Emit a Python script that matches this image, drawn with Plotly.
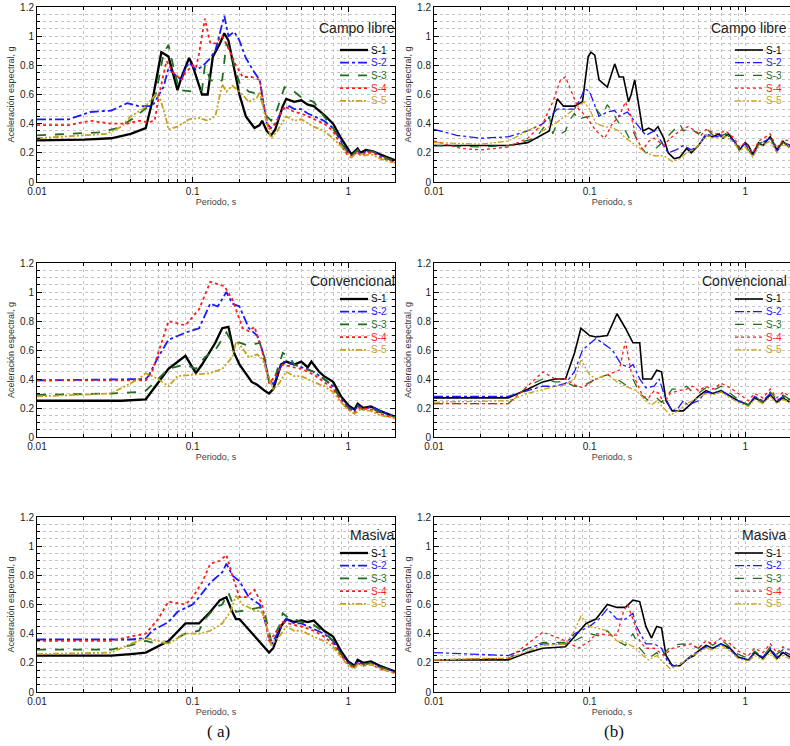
import math
import plotly.graph_objects as go

# ---------------- data (period T in s, spectral acceleration Sa in g) ----------------
SERIES = ["S-1", "S-2", "S-3", "S-4", "S-5"]
COLORS = ["#000000", "#1a1aff", "#1f6e1f", "#ff1a1a", "#c9a21a"]
DASHES = ["solid", "dashdot", "dash", "dot", "6px,2px,2px,2px,2px,2px"]
PANEL_TITLES = ["Campo libre", "Campo libre", "Convencional", "Convencional", "Masiva", "Masiva"]
COLUMN_LABELS = ["( a)", "(b)"]
X_TICKS = [0.01, 0.1, 1]
X_TICK_TEXT = ["0.01", "0.1", "1"]
X_MINOR = [0.02, 0.03, 0.04, 0.05, 0.06, 0.07, 0.08, 0.09, 0.2, 0.3, 0.4, 0.5, 0.6, 0.7, 0.8, 0.9, 2]

# Campo libre (a)
cla_s1_T = [0.01, 0.02, 0.03, 0.04, 0.05, 0.055, 0.063, 0.07, 0.08, 0.085, 0.095, 0.1, 0.115, 0.125, 0.135, 0.15, 0.16, 0.17, 0.2, 0.22, 0.25, 0.27, 0.28, 0.3, 0.32, 0.34, 0.38, 0.4, 0.45, 0.5, 0.55, 0.6, 0.7, 0.8, 0.9, 1.0, 1.05, 1.15, 1.2, 1.3, 1.45, 1.6, 2.0]
cla_s1_Sa = [0.285, 0.29, 0.3, 0.33, 0.37, 0.55, 0.89, 0.86, 0.63, 0.72, 0.85, 0.8, 0.6, 0.6, 0.86, 0.95, 1.02, 0.97, 0.6, 0.45, 0.37, 0.39, 0.42, 0.35, 0.32, 0.36, 0.52, 0.57, 0.55, 0.56, 0.53, 0.52, 0.46, 0.4, 0.3, 0.22, 0.19, 0.23, 0.2, 0.22, 0.21, 0.19, 0.15]
cla_s2_T = [0.01, 0.016, 0.022, 0.03, 0.038, 0.045, 0.055, 0.065, 0.07, 0.08, 0.085, 0.09, 0.095, 0.105, 0.115, 0.13, 0.14, 0.16, 0.17, 0.185, 0.2, 0.22, 0.25, 0.27, 0.28, 0.3, 0.32, 0.34, 0.38, 0.42, 0.45, 0.5, 0.55, 0.6, 0.7, 0.8, 0.9, 1.0, 1.05, 1.15, 1.2, 1.3, 1.45, 1.6, 2.0]
cla_s2_Sa = [0.43, 0.43, 0.48, 0.49, 0.54, 0.52, 0.52, 0.65, 0.78, 0.72, 0.7, 0.78, 0.82, 0.77, 0.79, 0.85, 0.9, 1.14, 1.0, 1.03, 0.97, 0.85, 0.75, 0.7, 0.6, 0.4, 0.37, 0.4, 0.5, 0.52, 0.5, 0.5, 0.47, 0.45, 0.42, 0.37, 0.28, 0.2, 0.18, 0.22, 0.19, 0.21, 0.21, 0.18, 0.14]
cla_s3_T = [0.01, 0.025, 0.033, 0.042, 0.052, 0.058, 0.065, 0.07, 0.075, 0.082, 0.1, 0.115, 0.12, 0.13, 0.145, 0.155, 0.165, 0.18, 0.2, 0.23, 0.27, 0.3, 0.32, 0.35, 0.39, 0.45, 0.5, 0.6, 0.7, 0.8, 0.9, 1.0, 1.05, 1.15, 1.2, 1.3, 1.45, 1.6, 2.0]
cla_s3_Sa = [0.32, 0.34, 0.37, 0.44, 0.52, 0.6, 0.88, 0.94, 0.8, 0.63, 0.62, 0.63, 0.8, 0.7, 0.68, 0.7, 0.95, 0.85, 0.68, 0.62, 0.6, 0.45, 0.42, 0.5, 0.65, 0.62, 0.58, 0.55, 0.45, 0.37, 0.27, 0.2, 0.18, 0.22, 0.2, 0.21, 0.21, 0.18, 0.14]
cla_s4_T = [0.01, 0.016, 0.022, 0.03, 0.038, 0.045, 0.052, 0.057, 0.061, 0.068, 0.075, 0.085, 0.09, 0.1, 0.105, 0.11, 0.12, 0.13, 0.14, 0.155, 0.17, 0.19, 0.21, 0.24, 0.27, 0.29, 0.31, 0.34, 0.39, 0.45, 0.5, 0.6, 0.7, 0.8, 0.9, 1.0, 1.05, 1.15, 1.2, 1.3, 1.45, 1.6, 2.0]
cla_s4_Sa = [0.39, 0.39, 0.42, 0.4, 0.4, 0.42, 0.41, 0.42, 0.6, 0.83, 0.75, 0.7, 0.75, 0.8, 0.78, 0.88, 1.12, 0.95, 0.95, 1.0, 0.92, 0.8, 0.72, 0.72, 0.7, 0.5, 0.36, 0.4, 0.52, 0.48, 0.47, 0.43, 0.4, 0.35, 0.25, 0.18, 0.17, 0.21, 0.18, 0.2, 0.2, 0.17, 0.13]
cla_s5_T = [0.01, 0.02, 0.028, 0.035, 0.04, 0.048, 0.058, 0.062, 0.067, 0.07, 0.08, 0.095, 0.11, 0.125, 0.14, 0.155, 0.165, 0.18, 0.2, 0.23, 0.26, 0.27, 0.3, 0.32, 0.35, 0.4, 0.45, 0.5, 0.6, 0.7, 0.8, 0.95, 1.05, 1.15, 1.25, 1.4, 1.6, 2.0]
cla_s5_Sa = [0.3, 0.32, 0.33, 0.38, 0.45, 0.5, 0.6, 0.57, 0.45, 0.36, 0.38, 0.43, 0.44, 0.42, 0.45, 0.67, 0.62, 0.66, 0.62, 0.55, 0.58, 0.62, 0.4, 0.3, 0.35, 0.45, 0.42, 0.43, 0.38, 0.35, 0.3, 0.22, 0.17, 0.2, 0.18, 0.19, 0.16, 0.13]

# Campo libre (b)
clb_s1_T = [0.01, 0.03, 0.04, 0.045, 0.055, 0.062, 0.068, 0.08, 0.09, 0.098, 0.102, 0.108, 0.115, 0.13, 0.145, 0.155, 0.165, 0.178, 0.185, 0.195, 0.205, 0.22, 0.24, 0.26, 0.275, 0.3, 0.32, 0.35, 0.38, 0.42, 0.45, 0.5, 0.56, 0.62, 0.68, 0.72, 0.78, 0.85, 0.92, 1.0, 1.05, 1.12, 1.22, 1.3, 1.45, 1.6, 1.75, 1.9, 2.0]
clb_s1_Sa = [0.25, 0.25, 0.27, 0.3, 0.35, 0.57, 0.52, 0.52, 0.55, 0.86, 0.89, 0.87, 0.7, 0.65, 0.81, 0.72, 0.72, 0.55, 0.6, 0.7, 0.55, 0.35, 0.37, 0.35, 0.38, 0.3, 0.2, 0.16, 0.17, 0.23, 0.2, 0.25, 0.32, 0.31, 0.33, 0.3, 0.33, 0.28, 0.22, 0.27, 0.25, 0.19, 0.27, 0.25, 0.31, 0.22, 0.28, 0.24, 0.26]
clb_s2_T = [0.01, 0.014, 0.02, 0.03, 0.04, 0.05, 0.056, 0.062, 0.08, 0.088, 0.093, 0.1, 0.105, 0.115, 0.13, 0.145, 0.155, 0.175, 0.2, 0.23, 0.26, 0.28, 0.32, 0.36, 0.4, 0.45, 0.5, 0.56, 0.65, 0.75, 0.85, 0.92, 1.0, 1.12, 1.22, 1.45, 1.6, 1.75, 2.0]
clb_s2_Sa = [0.36, 0.32, 0.3, 0.31, 0.35, 0.4, 0.45, 0.5, 0.5, 0.58, 0.64, 0.62, 0.56, 0.45, 0.48, 0.49, 0.45, 0.48, 0.4, 0.32, 0.35, 0.3, 0.2, 0.22, 0.25, 0.22, 0.25, 0.33, 0.31, 0.33, 0.28, 0.23, 0.26, 0.18, 0.26, 0.3, 0.21, 0.27, 0.25]
clb_s3_T = [0.01, 0.02, 0.03, 0.045, 0.053, 0.055, 0.058, 0.06, 0.065, 0.07, 0.075, 0.08, 0.085, 0.09, 0.1, 0.11, 0.12, 0.13, 0.14, 0.155, 0.17, 0.18, 0.19, 0.21, 0.23, 0.26, 0.28, 0.31, 0.34, 0.36, 0.38, 0.4, 0.44, 0.5, 0.56, 0.65, 0.75, 0.85, 0.92, 1.0, 1.12, 1.22, 1.45, 1.6, 1.75, 2.0]
clb_s3_Sa = [0.25, 0.24, 0.25, 0.3, 0.4, 0.45, 0.33, 0.37, 0.33, 0.35, 0.43, 0.47, 0.42, 0.44, 0.45, 0.5, 0.45, 0.53, 0.48, 0.4, 0.35, 0.3, 0.35, 0.25, 0.2, 0.22, 0.25, 0.3, 0.35, 0.38, 0.4, 0.35, 0.37, 0.33, 0.37, 0.3, 0.33, 0.28, 0.22, 0.25, 0.18, 0.26, 0.3, 0.22, 0.27, 0.25]
clb_s4_T = [0.01, 0.015, 0.02, 0.03, 0.04, 0.05, 0.058, 0.065, 0.07, 0.078, 0.085, 0.095, 0.11, 0.125, 0.14, 0.155, 0.17, 0.185, 0.2, 0.22, 0.24, 0.26, 0.3, 0.33, 0.38, 0.43, 0.48, 0.52, 0.56, 0.65, 0.75, 0.85, 0.92, 1.0, 1.12, 1.22, 1.45, 1.6, 1.75, 2.0]
clb_s4_Sa = [0.28, 0.23, 0.22, 0.24, 0.3, 0.4, 0.55, 0.7, 0.72, 0.6, 0.5, 0.45, 0.35, 0.3, 0.4, 0.45, 0.55, 0.45, 0.3, 0.22, 0.28, 0.3, 0.25, 0.3, 0.35, 0.38, 0.35, 0.32, 0.36, 0.33, 0.35, 0.3, 0.24, 0.27, 0.2, 0.28, 0.33, 0.23, 0.29, 0.28]
clb_s5_T = [0.01, 0.02, 0.03, 0.04, 0.045, 0.05, 0.055, 0.06, 0.075, 0.085, 0.092, 0.1, 0.11, 0.125, 0.14, 0.155, 0.17, 0.2, 0.23, 0.26, 0.3, 0.34, 0.38, 0.42, 0.46, 0.5, 0.56, 0.65, 0.75, 0.85, 0.92, 1.0, 1.12, 1.22, 1.45, 1.6, 1.75, 2.0]
clb_s5_Sa = [0.27, 0.26, 0.28, 0.35, 0.38, 0.35, 0.38, 0.4, 0.48, 0.52, 0.55, 0.5, 0.4, 0.38, 0.37, 0.35, 0.3, 0.25, 0.2, 0.18, 0.18, 0.14, 0.16, 0.2, 0.22, 0.25, 0.32, 0.3, 0.31, 0.27, 0.21, 0.24, 0.17, 0.24, 0.28, 0.2, 0.26, 0.23]

# Convencional (a)
cva_s1_T = [0.01, 0.035, 0.05, 0.07, 0.09, 0.105, 0.115, 0.14, 0.155, 0.17, 0.185, 0.2, 0.24, 0.26, 0.29, 0.31, 0.33, 0.37, 0.4, 0.45, 0.5, 0.55, 0.58, 0.65, 0.7, 0.8, 0.9, 1.0, 1.1, 1.15, 1.25, 1.4, 1.6, 2.0]
cva_s1_Sa = [0.25, 0.25, 0.26, 0.47, 0.56, 0.44, 0.5, 0.65, 0.75, 0.76, 0.58, 0.5, 0.38, 0.36, 0.32, 0.3, 0.33, 0.5, 0.52, 0.5, 0.52, 0.48, 0.52, 0.45, 0.42, 0.38, 0.28, 0.22, 0.19, 0.23, 0.2, 0.21, 0.18, 0.14]
cva_s2_T = [0.01, 0.05, 0.052, 0.06, 0.07, 0.09, 0.11, 0.13, 0.145, 0.165, 0.18, 0.2, 0.23, 0.26, 0.28, 0.31, 0.33, 0.38, 0.45, 0.5, 0.6, 0.7, 0.8, 0.9, 1.0, 1.1, 1.15, 1.25, 1.4, 1.6, 2.0]
cva_s2_Sa = [0.39, 0.4, 0.42, 0.55, 0.67, 0.72, 0.75, 0.92, 0.9, 1.0, 0.92, 0.9, 0.75, 0.7, 0.6, 0.4, 0.36, 0.52, 0.5, 0.48, 0.45, 0.4, 0.35, 0.26, 0.21, 0.18, 0.22, 0.19, 0.21, 0.18, 0.14]
cva_s3_T = [0.01, 0.03, 0.045, 0.05, 0.06, 0.07, 0.09, 0.105, 0.12, 0.14, 0.165, 0.18, 0.2, 0.23, 0.27, 0.29, 0.31, 0.34, 0.38, 0.42, 0.45, 0.5, 0.6, 0.7, 0.8, 0.9, 1.0, 1.1, 1.15, 1.25, 1.4, 1.6, 2.0]
cva_s3_Sa = [0.29, 0.3, 0.31, 0.32, 0.4, 0.47, 0.5, 0.47, 0.55, 0.6, 0.72, 0.65, 0.65, 0.63, 0.65, 0.55, 0.38, 0.42, 0.58, 0.55, 0.5, 0.48, 0.45, 0.4, 0.35, 0.26, 0.2, 0.17, 0.21, 0.19, 0.2, 0.17, 0.14]
cva_s4_T = [0.01, 0.05, 0.055, 0.063, 0.07, 0.09, 0.11, 0.13, 0.16, 0.18, 0.21, 0.23, 0.25, 0.28, 0.31, 0.34, 0.38, 0.45, 0.5, 0.6, 0.7, 0.8, 0.9, 1.0, 1.1, 1.2, 1.4, 1.6, 2.0]
cva_s4_Sa = [0.39, 0.39, 0.45, 0.65, 0.8, 0.77, 0.88, 1.07, 1.04, 0.95, 0.75, 0.73, 0.76, 0.6, 0.37, 0.42, 0.5, 0.48, 0.47, 0.43, 0.38, 0.33, 0.25, 0.19, 0.17, 0.2, 0.19, 0.16, 0.13]
cva_s5_T = [0.01, 0.02, 0.03, 0.045, 0.05, 0.06, 0.07, 0.08, 0.1, 0.13, 0.155, 0.18, 0.19, 0.2, 0.23, 0.26, 0.28, 0.31, 0.33, 0.36, 0.4, 0.45, 0.5, 0.6, 0.7, 0.8, 0.9, 1.0, 1.1, 1.2, 1.4, 1.6, 2.0]
cva_s5_Sa = [0.28, 0.29, 0.3, 0.4, 0.44, 0.4, 0.35, 0.42, 0.43, 0.44, 0.47, 0.55, 0.65, 0.64, 0.55, 0.57, 0.54, 0.4, 0.33, 0.37, 0.45, 0.42, 0.42, 0.38, 0.35, 0.31, 0.24, 0.19, 0.16, 0.19, 0.18, 0.15, 0.13]

# Convencional (b)
cvb_s1_T = [0.01, 0.03, 0.04, 0.05, 0.06, 0.07, 0.08, 0.088, 0.1, 0.11, 0.13, 0.15, 0.17, 0.19, 0.21, 0.22, 0.25, 0.27, 0.29, 0.31, 0.34, 0.4, 0.45, 0.5, 0.56, 0.62, 0.7, 0.8, 0.9, 1.05, 1.15, 1.3, 1.45, 1.6, 1.75, 2.0]
cvb_s1_Sa = [0.27, 0.27, 0.33, 0.38, 0.4, 0.4, 0.58, 0.75, 0.7, 0.69, 0.7, 0.85, 0.75, 0.65, 0.65, 0.4, 0.4, 0.46, 0.45, 0.25, 0.18, 0.18, 0.23, 0.28, 0.32, 0.3, 0.32, 0.28, 0.25, 0.22, 0.27, 0.24, 0.29, 0.24, 0.27, 0.23]
cvb_s2_T = [0.01, 0.03, 0.04, 0.05, 0.06, 0.07, 0.08, 0.09, 0.11, 0.14, 0.16, 0.18, 0.19, 0.21, 0.23, 0.26, 0.28, 0.3, 0.33, 0.36, 0.4, 0.43, 0.5, 0.56, 0.62, 0.7, 0.8, 0.9, 1.05, 1.15, 1.3, 1.45, 1.6, 1.75, 2.0]
cvb_s2_Sa = [0.28, 0.28, 0.32, 0.35, 0.35, 0.37, 0.45, 0.6, 0.68, 0.6, 0.5, 0.48, 0.5, 0.4, 0.34, 0.35, 0.4, 0.3, 0.2, 0.18, 0.25, 0.22, 0.25, 0.31, 0.3, 0.32, 0.28, 0.25, 0.22, 0.28, 0.25, 0.3, 0.25, 0.28, 0.25]
cvb_s3_T = [0.01, 0.03, 0.04, 0.05, 0.06, 0.07, 0.08, 0.09, 0.11, 0.13, 0.15, 0.17, 0.19, 0.21, 0.24, 0.27, 0.29, 0.31, 0.34, 0.38, 0.42, 0.47, 0.5, 0.56, 0.62, 0.7, 0.8, 0.9, 1.05, 1.15, 1.3, 1.45, 1.6, 1.75, 2.0]
cvb_s3_Sa = [0.23, 0.23, 0.35, 0.4, 0.38, 0.38, 0.35, 0.35, 0.4, 0.43, 0.4, 0.36, 0.4, 0.3, 0.25, 0.27, 0.24, 0.28, 0.33, 0.33, 0.35, 0.3, 0.3, 0.34, 0.32, 0.35, 0.3, 0.26, 0.22, 0.28, 0.24, 0.31, 0.26, 0.29, 0.25]
cvb_s4_T = [0.01, 0.03, 0.04, 0.05, 0.06, 0.07, 0.08, 0.09, 0.11, 0.13, 0.155, 0.17, 0.185, 0.2, 0.22, 0.24, 0.26, 0.28, 0.3, 0.33, 0.37, 0.42, 0.46, 0.5, 0.56, 0.62, 0.7, 0.8, 0.9, 1.05, 1.15, 1.3, 1.45, 1.6, 1.75, 2.0]
cvb_s4_Sa = [0.23, 0.23, 0.35, 0.45, 0.4, 0.4, 0.36, 0.34, 0.4, 0.43, 0.46, 0.66, 0.45, 0.38, 0.28, 0.27, 0.32, 0.3, 0.23, 0.3, 0.32, 0.33, 0.35, 0.32, 0.35, 0.33, 0.37, 0.34, 0.3, 0.25, 0.3, 0.27, 0.33, 0.27, 0.31, 0.27]
cvb_s5_T = [0.01, 0.03, 0.04, 0.05, 0.06, 0.07, 0.08, 0.088, 0.1, 0.11, 0.13, 0.15, 0.17, 0.2, 0.23, 0.25, 0.27, 0.3, 0.33, 0.37, 0.42, 0.46, 0.5, 0.56, 0.62, 0.7, 0.8, 0.9, 1.05, 1.15, 1.3, 1.45, 1.6, 1.75, 2.0]
cvb_s5_Sa = [0.24, 0.25, 0.3, 0.33, 0.35, 0.36, 0.4, 0.53, 0.43, 0.4, 0.43, 0.38, 0.35, 0.32, 0.25, 0.22, 0.25, 0.2, 0.15, 0.18, 0.23, 0.25, 0.27, 0.3, 0.29, 0.31, 0.27, 0.24, 0.21, 0.26, 0.23, 0.28, 0.23, 0.26, 0.23]

# Masiva (a)
maa_s1_T = [0.01, 0.03, 0.04, 0.05, 0.07, 0.09, 0.11, 0.13, 0.15, 0.165, 0.18, 0.19, 0.2, 0.25, 0.29, 0.31, 0.33, 0.37, 0.4, 0.45, 0.5, 0.55, 0.6, 0.65, 0.7, 0.8, 0.9, 1.0, 1.1, 1.15, 1.25, 1.4, 1.6, 2.0]
maa_s1_Sa = [0.25, 0.25, 0.26, 0.27, 0.35, 0.47, 0.47, 0.55, 0.63, 0.65, 0.55, 0.5, 0.5, 0.38, 0.3, 0.27, 0.3, 0.45, 0.5, 0.48, 0.49, 0.48, 0.49, 0.45, 0.42, 0.38, 0.28, 0.21, 0.18, 0.22, 0.2, 0.21, 0.18, 0.14]
maa_s2_T = [0.01, 0.04, 0.05, 0.055, 0.07, 0.08, 0.1, 0.11, 0.13, 0.155, 0.165, 0.18, 0.2, 0.23, 0.27, 0.29, 0.32, 0.35, 0.4, 0.45, 0.5, 0.6, 0.7, 0.8, 0.9, 1.0, 1.1, 1.15, 1.25, 1.4, 1.6, 2.0]
maa_s2_Sa = [0.36, 0.36, 0.37, 0.42, 0.48, 0.55, 0.6, 0.65, 0.75, 0.82, 0.88, 0.8, 0.76, 0.65, 0.6, 0.5, 0.32, 0.4, 0.5, 0.47, 0.47, 0.43, 0.4, 0.35, 0.26, 0.2, 0.17, 0.21, 0.19, 0.2, 0.17, 0.14]
maa_s3_T = [0.01, 0.03, 0.04, 0.05, 0.06, 0.07, 0.09, 0.11, 0.12, 0.14, 0.155, 0.17, 0.19, 0.22, 0.27, 0.29, 0.32, 0.36, 0.38, 0.42, 0.45, 0.5, 0.6, 0.7, 0.8, 0.9, 1.0, 1.1, 1.15, 1.25, 1.4, 1.6, 2.0]
maa_s3_Sa = [0.29, 0.29, 0.32, 0.35, 0.33, 0.34, 0.4, 0.42, 0.5, 0.58, 0.6, 0.68, 0.55, 0.56, 0.58, 0.55, 0.35, 0.45, 0.54, 0.5, 0.5, 0.48, 0.46, 0.41, 0.35, 0.26, 0.2, 0.17, 0.21, 0.19, 0.2, 0.17, 0.14]
maa_s4_T = [0.01, 0.03, 0.04, 0.05, 0.06, 0.07, 0.09, 0.1, 0.115, 0.13, 0.15, 0.165, 0.18, 0.2, 0.22, 0.25, 0.28, 0.31, 0.34, 0.38, 0.45, 0.5, 0.6, 0.7, 0.8, 0.9, 1.0, 1.1, 1.15, 1.25, 1.4, 1.6, 2.0]
maa_s4_Sa = [0.35, 0.35, 0.38, 0.4, 0.5, 0.62, 0.6, 0.65, 0.75, 0.88, 0.9, 0.94, 0.8, 0.65, 0.65, 0.7, 0.6, 0.35, 0.4, 0.48, 0.46, 0.45, 0.42, 0.38, 0.33, 0.25, 0.19, 0.16, 0.2, 0.18, 0.19, 0.16, 0.13]
maa_s5_T = [0.01, 0.03, 0.04, 0.05, 0.06, 0.07, 0.08, 0.09, 0.11, 0.13, 0.155, 0.175, 0.19, 0.21, 0.25, 0.28, 0.3, 0.32, 0.36, 0.4, 0.45, 0.5, 0.6, 0.7, 0.8, 0.9, 1.0, 1.1, 1.15, 1.25, 1.4, 1.6, 2.0]
maa_s5_Sa = [0.26, 0.27, 0.33, 0.37, 0.35, 0.33, 0.37, 0.4, 0.4, 0.42, 0.47, 0.55, 0.66, 0.6, 0.56, 0.55, 0.45, 0.32, 0.38, 0.45, 0.42, 0.42, 0.38, 0.35, 0.31, 0.24, 0.18, 0.16, 0.19, 0.18, 0.19, 0.16, 0.13]

# Masiva (b)
mab_s1_T = [0.01, 0.03, 0.04, 0.05, 0.07, 0.08, 0.095, 0.11, 0.13, 0.15, 0.17, 0.19, 0.21, 0.23, 0.25, 0.27, 0.29, 0.31, 0.34, 0.38, 0.43, 0.47, 0.5, 0.56, 0.62, 0.7, 0.8, 0.9, 1.05, 1.15, 1.3, 1.45, 1.6, 1.75, 2.0]
mab_s1_Sa = [0.22, 0.22, 0.27, 0.3, 0.31, 0.38, 0.47, 0.5, 0.6, 0.58, 0.58, 0.63, 0.62, 0.45, 0.37, 0.45, 0.44, 0.25, 0.18, 0.18, 0.23, 0.25, 0.28, 0.32, 0.3, 0.33, 0.3, 0.24, 0.22, 0.27, 0.23, 0.29, 0.23, 0.27, 0.23]
mab_s2_T = [0.01, 0.02, 0.03, 0.04, 0.05, 0.07, 0.08, 0.1, 0.115, 0.13, 0.15, 0.17, 0.19, 0.2, 0.23, 0.26, 0.29, 0.32, 0.35, 0.4, 0.45, 0.5, 0.56, 0.62, 0.7, 0.8, 0.9, 1.05, 1.15, 1.3, 1.45, 1.6, 1.75, 2.0]
mab_s2_Sa = [0.27, 0.26, 0.25, 0.3, 0.33, 0.33, 0.4, 0.45, 0.5, 0.57, 0.5, 0.5, 0.54, 0.45, 0.33, 0.33, 0.3, 0.2, 0.18, 0.2, 0.25, 0.28, 0.31, 0.3, 0.33, 0.29, 0.24, 0.22, 0.27, 0.24, 0.3, 0.24, 0.28, 0.25]
mab_s3_T = [0.01, 0.03, 0.04, 0.05, 0.07, 0.08, 0.09, 0.1, 0.12, 0.13, 0.15, 0.17, 0.19, 0.21, 0.24, 0.27, 0.29, 0.31, 0.34, 0.4, 0.45, 0.5, 0.56, 0.62, 0.7, 0.8, 0.9, 1.05, 1.15, 1.3, 1.45, 1.6, 1.75, 2.0]
mab_s3_Sa = [0.22, 0.23, 0.3, 0.34, 0.34, 0.35, 0.38, 0.4, 0.38, 0.42, 0.35, 0.32, 0.4, 0.3, 0.23, 0.27, 0.23, 0.28, 0.32, 0.33, 0.32, 0.3, 0.35, 0.32, 0.36, 0.31, 0.26, 0.23, 0.28, 0.24, 0.31, 0.26, 0.29, 0.26]
mab_s4_T = [0.01, 0.03, 0.04, 0.05, 0.06, 0.07, 0.085, 0.1, 0.11, 0.13, 0.15, 0.165, 0.175, 0.19, 0.21, 0.23, 0.26, 0.3, 0.34, 0.4, 0.45, 0.5, 0.56, 0.62, 0.7, 0.8, 0.9, 1.05, 1.15, 1.3, 1.45, 1.6, 1.75, 2.0]
mab_s4_Sa = [0.22, 0.23, 0.33, 0.41, 0.38, 0.35, 0.3, 0.35, 0.4, 0.39, 0.39, 0.55, 0.6, 0.5, 0.35, 0.3, 0.3, 0.25, 0.3, 0.32, 0.33, 0.3, 0.35, 0.33, 0.37, 0.33, 0.28, 0.25, 0.3, 0.27, 0.33, 0.27, 0.31, 0.28]
mab_s5_T = [0.01, 0.02, 0.03, 0.04, 0.05, 0.07, 0.08, 0.088, 0.1, 0.12, 0.13, 0.15, 0.17, 0.2, 0.22, 0.24, 0.27, 0.3, 0.33, 0.37, 0.42, 0.46, 0.5, 0.56, 0.62, 0.7, 0.8, 0.9, 1.05, 1.15, 1.3, 1.45, 1.6, 1.75, 2.0]
mab_s5_Sa = [0.22, 0.23, 0.23, 0.28, 0.32, 0.33, 0.42, 0.52, 0.45, 0.43, 0.42, 0.35, 0.34, 0.3, 0.25, 0.22, 0.25, 0.2, 0.16, 0.18, 0.22, 0.25, 0.27, 0.3, 0.29, 0.32, 0.28, 0.23, 0.21, 0.25, 0.22, 0.27, 0.22, 0.25, 0.22]

PANEL_DATA = [
    [(cla_s1_T, cla_s1_Sa), (cla_s2_T, cla_s2_Sa), (cla_s3_T, cla_s3_Sa), (cla_s4_T, cla_s4_Sa), (cla_s5_T, cla_s5_Sa)],
    [(clb_s1_T, clb_s1_Sa), (clb_s2_T, clb_s2_Sa), (clb_s3_T, clb_s3_Sa), (clb_s4_T, clb_s4_Sa), (clb_s5_T, clb_s5_Sa)],
    [(cva_s1_T, cva_s1_Sa), (cva_s2_T, cva_s2_Sa), (cva_s3_T, cva_s3_Sa), (cva_s4_T, cva_s4_Sa), (cva_s5_T, cva_s5_Sa)],
    [(cvb_s1_T, cvb_s1_Sa), (cvb_s2_T, cvb_s2_Sa), (cvb_s3_T, cvb_s3_Sa), (cvb_s4_T, cvb_s4_Sa), (cvb_s5_T, cvb_s5_Sa)],
    [(maa_s1_T, maa_s1_Sa), (maa_s2_T, maa_s2_Sa), (maa_s3_T, maa_s3_Sa), (maa_s4_T, maa_s4_Sa), (maa_s5_T, maa_s5_Sa)],
    [(mab_s1_T, mab_s1_Sa), (mab_s2_T, mab_s2_Sa), (mab_s3_T, mab_s3_Sa), (mab_s4_T, mab_s4_Sa), (mab_s5_T, mab_s5_Sa)],
]

# ---------------- layout geometry (pixels) ----------------
W, H = 790, 746
COL_X = [(37, 395), (434, 790)]
ROW_Y = [(7, 182), (263, 437), (517, 692)]
TITLE_DY = [21, 18, 18]
LEG_DY = [43, 36, 36]
LEG_STEP = 12.7
FONT = "Arial, Liberation Sans, sans-serif"
GRID = "#c4c4c4"


def px_x(p):
    return p / W


def px_y(p):
    return 1 - p / H


fig = go.Figure()
layout = dict(
    width=W, height=H, margin=dict(l=0, r=0, t=0, b=0),
    paper_bgcolor="white", plot_bgcolor="white", showlegend=False,
    font=dict(family=FONT, size=10, color="#222222"),
)
annotations = []
shapes = []

for i in range(6):
    row, col = divmod(i, 2)
    n = i + 1
    xa, ya = f"x{n}", f"y{n}"
    x0, x1 = COL_X[col]
    y0, y1 = ROW_Y[row]
    width_main = 2.3 if col == 0 else 1.6
    width_other = 1.8 if col == 0 else 1.3
    for k, (tt, sa) in enumerate(PANEL_DATA[i]):
        fig.add_trace(go.Scatter(
            x=tt, y=sa, mode="lines", name=SERIES[k], xaxis=xa, yaxis=ya,
            line=dict(color=COLORS[k], dash=DASHES[k],
                      width=width_main if k == 0 else width_other),
            hoverinfo="skip",
        ))
    decades = (x1 - x0) / ((395 - 37) / (math.log10(2) + 2))
    layout[f"xaxis{n}"] = dict(
        domain=[px_x(x0), px_x(x1)], anchor=ya, type="log",
        range=[-2, -2 + decades],
        tickmode="array", tickvals=X_TICKS, ticktext=X_TICK_TEXT,
        ticks="inside", ticklen=5, tickcolor="#000", tickwidth=1,
        showline=True, linecolor="#000", linewidth=1, mirror="ticks",
        showgrid=True, gridcolor=GRID, griddash="dot", gridwidth=1,
        minor=dict(tickmode="array", tickvals=X_MINOR, ticks="inside", ticklen=3,
                   tickcolor="#000", showgrid=True, gridcolor=GRID, griddash="dot"),
        tickfont=dict(size=10, color="#222"),
        title=dict(text="Periodo, s", font=dict(size=9, color="#444"), standoff=2),
        zeroline=False, automargin=False,
    )
    layout[f"yaxis{n}"] = dict(
        domain=[px_y(y1), px_y(y0)], anchor=xa, range=[0, 1.2], dtick=0.2,
        ticks="inside", ticklen=5, tickcolor="#000",
        showline=True, linecolor="#000", linewidth=1,
        mirror="ticks" if col == 0 else False,
        showgrid=True, gridcolor=GRID, griddash="dot", gridwidth=1,
        minor=dict(dtick=0.05, ticks="inside", ticklen=3, tickcolor="#000",
                   showgrid=True, gridcolor=GRID, griddash="dot"),
        tickfont=dict(size=10, color="#222"),
        title=dict(text="Aceleración espectral, g", font=dict(size=9, color="#333"), standoff=3),
        zeroline=False, automargin=False,
    )
    # panel title
    annotations.append(dict(
        text=PANEL_TITLES[i], xref="paper", yref="paper",
        x=px_x(x1 + 2 if col == 0 else x1 - 1), y=px_y(y0 + TITLE_DY[row]),
        xanchor="right", yanchor="middle", showarrow=False,
        font=dict(size=14, color="#222", family=FONT),
    ))
    # legend
    for k in range(5):
        yy = px_y(y0 + LEG_DY[row] + LEG_STEP * k)
        shapes.append(dict(
            type="line", xref="paper", yref="paper",
            x0=px_x(x1 - 55), x1=px_x(x1 - 27), y0=yy, y1=yy,
            line=dict(color=COLORS[k], dash=DASHES[k],
                      width=width_main if k == 0 else width_other),
        ))
        annotations.append(dict(
            text=SERIES[k], xref="paper", yref="paper",
            x=px_x(x1 - 26), y=yy, xanchor="left", yanchor="middle",
            showarrow=False, font=dict(size=10, color=COLORS[k], family=FONT),
        ))

for c, lab in enumerate(COLUMN_LABELS):
    x0, x1 = COL_X[c]
    annotations.append(dict(
        text=lab, xref="paper", yref="paper", x=px_x((x0 + x1) / 2 + 2), y=px_y(731),
        xanchor="center", yanchor="middle", showarrow=False,
        font=dict(size=17, color="#111", family="Liberation Serif, Times New Roman, serif"),
    ))

layout["annotations"] = annotations
layout["shapes"] = shapes
fig.update_layout(**layout)
fig.write_html("out.html", config={"responsive": False, "displayModeBar": False})

# remove the default page margin so the 790x746 figure fills the window exactly
with open("out.html", "r", encoding="utf-8") as fh:
    page = fh.read()
page = page.replace("<head>", "<head><style>html,body{margin:0;padding:0;overflow:hidden;}</style>", 1)
with open("out.html", "w", encoding="utf-8") as fh:
    fh.write(page)
